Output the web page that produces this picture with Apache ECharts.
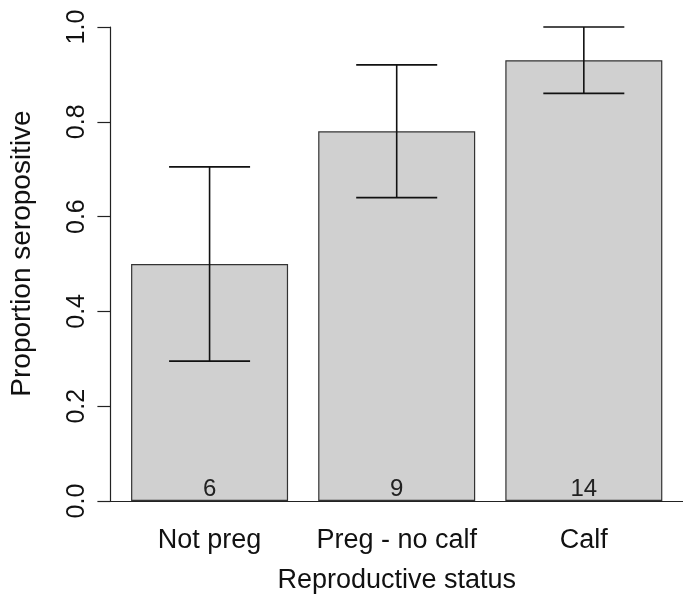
<!DOCTYPE html>
<html><head><meta charset="utf-8">
<script src="https://cdn.jsdelivr.net/npm/echarts@6/dist/echarts.min.js"></script>
<style>html,body{margin:0;padding:0;background:#fff}#c{width:683px;height:599px}</style>
</head><body><div id="c"></div>
<script>
const categories = ['Not preg', 'Preg - no calf', 'Calf'];
const proportions = [0.5, 0.78, 0.93];
const lowerCI = [0.295, 0.64, 0.86];
const upperCI = [0.705, 0.92, 1.0];
const sampleSizes = [6, 9, 14];
const yTickLabels = ['0.0', '0.2', '0.4', '0.6', '0.8', '1.0'];

// R barplot layout: bar width 1, space 0.2, xlim extended by 4%
const barPos = categories.map((c, i) => 0.7 + 1.2 * i);
const span = 3.6 - 0.2;
const xMin = 0.2 - 0.04 * span, xMax = 3.6 + 0.04 * span;
const FONT = '"Liberation Sans", Arial, Helvetica, sans-serif';

const chart = echarts.init(document.getElementById('c'), null, {renderer: 'canvas'});
chart.setOption({
  animation: false,
  backgroundColor: '#fff',
  grid: {left: 110.4, top: 27, width: 574.7, height: 474, containLabel: false},
  xAxis: {
    type: 'value', min: xMin, max: xMax,
    axisLine: {show: true, onZero: true, lineStyle: {color: '#222', width: 1.2}},
    axisTick: {show: false},
    splitLine: {show: false},
    axisLabel: {
      customValues: barPos, margin: 26, fontSize: 27, fontFamily: FONT, color: '#111',
      formatter: v => categories[Math.round((v - 0.7) / 1.2)]
    },
    name: 'Reproductive status', nameLocation: 'middle', nameGap: 66,
    nameTextStyle: {fontSize: 27, fontFamily: FONT, color: '#111'}
  },
  yAxis: {
    type: 'value', min: 0, max: 1, interval: 0.2,
    axisLine: {show: true, lineStyle: {color: '#222', width: 1.2}},
    axisTick: {show: true, length: 13, lineStyle: {color: '#222', width: 1.2}},
    splitLine: {show: false},
    axisLabel: {
      rotate: 90, margin: 21, fontSize: 25, fontFamily: FONT, color: '#111',
      formatter: v => yTickLabels[Math.round(v / 0.2)]
    },
    name: 'Proportion seropositive', nameLocation: 'middle', nameGap: 74, nameRotate: 90,
    nameTextStyle: {fontSize: 28, fontFamily: FONT, color: '#111', padding: [0, 0, 0, 21]}
  },
  series: [
    {
      type: 'bar', barWidth: 157,
      data: proportions.map((p, i) => [barPos[i], p]),
      itemStyle: {color: '#d0d0d0', borderColor: '#333', borderWidth: 1.2},
      label: {
        show: true, position: 'insideBottom', distance: 0,
        fontSize: 24, fontFamily: FONT, color: '#222',
        formatter: p => String(sampleSizes[p.dataIndex])
      },
      markLine: {
        silent: true, symbol: 'none', label: {show: false},
        lineStyle: {color: '#222', width: 1.2, type: 'solid'},
        data: [{yAxis: 0}]
      },
      z: 2
    },
    {
      type: 'custom',
      data: proportions.map((p, i) => [barPos[i], lowerCI[i], upperCI[i]]),
      renderItem: (params, api) => {
        const x = api.value(0);
        const lo = api.coord([x, api.value(1)]);
        const hi = api.coord([x, api.value(2)]);
        const half = 40.5;
        const st = {stroke: '#111', lineWidth: 1.6};
        return {type: 'group', children: [
          {type: 'line', shape: {x1: lo[0], y1: lo[1], x2: hi[0], y2: hi[1]}, style: st},
          {type: 'line', shape: {x1: hi[0] - half, y1: hi[1], x2: hi[0] + half, y2: hi[1]}, style: st},
          {type: 'line', shape: {x1: lo[0] - half, y1: lo[1], x2: lo[0] + half, y2: lo[1]}, style: st}
        ]};
      },
      z: 5
    }
  ]
});
</script></body></html>
